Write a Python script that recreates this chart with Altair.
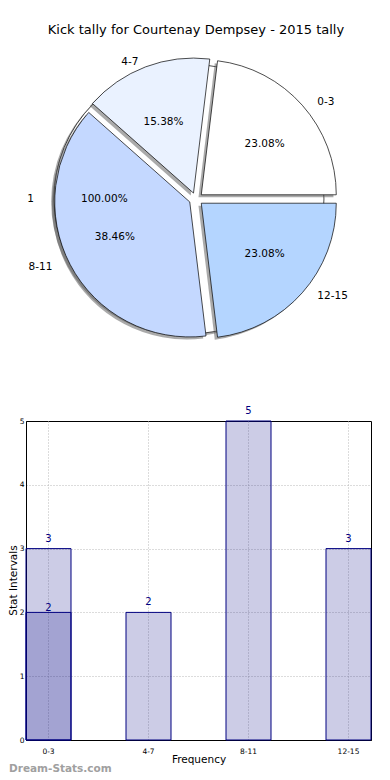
import altair as alt
import pandas as pd

# ---------------- data ----------------
categories = ["0-3", "4-7", "8-11", "12-15"]
tally = [3, 2, 5, 3]
slice_colors = ["#ffffff", "#eaf2ff", "#c4d8ff", "#b4d5ff"]

extra_labels = ["1"]
extra_pie_values = [1]
extra_colors = ["#ffffff"]
extra_categories = ["0-3"]
extra_bar_values = [2]

title_text = "Kick tally for Courtenay Dempsey - 2015 tally"
x_title = "Frequency"
y_title = "Stat Intervals"
watermark = "Dream-Stats.com"

FONT = "DejaVu Sans"
NAVY = "#000080"

pie_df = pd.DataFrame({"label": categories, "value": tally,
                       "color": slice_colors, "idx": list(range(len(categories)))})
extra_pie_df = pd.DataFrame({"label": extra_labels, "value": extra_pie_values,
                             "color": extra_colors, "idx": list(range(len(extra_labels)))})
bar_df = pd.DataFrame({"category": categories, "value": tally})
extra_bar_df = pd.DataFrame({"category": extra_categories, "value": extra_bar_values})

# ---------------- pie ----------------
PW, PH = 345, 390
CX, CY, RX, RY = 170, 191, 141, 127
R = 135
xs = alt.Scale(domain=[-1, 1], range=[CX - RX, CX + RX])
ys = alt.Scale(domain=[-1, 1], range=[CY + RY, CY - RY])


def pie_base(df):
    return (
        alt.Chart(df)
        .transform_window(cum="sum(value)", sort=[alt.SortField("idx")])
        .transform_joinaggregate(total="sum(value)")
        .transform_calculate(
            a0="2.5*PI - 2*PI*(datum.cum - datum.value)/datum.total",
            a1="2.5*PI - 2*PI*datum.cum/datum.total",
            mid="PI*(2*datum.cum - datum.value)/datum.total",
        )
        .transform_calculate(
            ex="0.05*cos(datum.mid)", ey="0.05*sin(datum.mid)",
            lx="1.15*cos(datum.mid)", ly="1.15*sin(datum.mid)",
            px="0.65*cos(datum.mid)", py="0.65*sin(datum.mid)",
            pct="format(100*datum.value/datum.total, '.2f') + '%'",
        )
    )


def arcs(df, shadow):
    b = pie_base(df)
    enc = dict(
        x=alt.X("ex:Q", scale=xs, axis=None),
        y=alt.Y("ey:Q", scale=ys, axis=None),
        theta=alt.Theta("a0:Q", scale=None),
        theta2="a1:Q",
    )
    if shadow:
        return b.mark_arc(radius=R, xOffset=-2.8, yOffset=2.5,
                          color="#555555", opacity=0.5).encode(**enc)
    return b.mark_arc(radius=R, stroke="black", strokeWidth=0.7).encode(
        color=alt.Color("color:N", scale=None), **enc)


def outer_labels(df):
    b = pie_base(df)
    enc = dict(x=alt.X("lx:Q", scale=xs, axis=None),
               y=alt.Y("ly:Q", scale=ys, axis=None),
               text="label:N")
    right = b.transform_filter("datum.lx >= 0").mark_text(
        align="left", baseline="middle", fontSize=10.5, font=FONT, color="black").encode(**enc)
    left = b.transform_filter("datum.lx < 0").mark_text(
        align="right", baseline="middle", fontSize=10.5, font=FONT, color="black").encode(**enc)
    return [right, left]


def pct_labels(df):
    return pie_base(df).mark_text(
        align="center", baseline="middle", fontSize=10.5, font=FONT, color="black"
    ).encode(x=alt.X("px:Q", scale=xs, axis=None),
             y=alt.Y("py:Q", scale=ys, axis=None),
             text="pct:N")


title_layer = alt.Chart(pd.DataFrame({"t": [title_text]})).mark_text(
    align="center", baseline="middle", fontSize=13, font=FONT, color="black"
).encode(x=alt.value(CX), y=alt.value(22), text="t:N")

pie = alt.layer(
    arcs(extra_pie_df, True),
    arcs(extra_pie_df, False),
    arcs(pie_df, True),
    arcs(pie_df, False),
    *outer_labels(pie_df),
    *outer_labels(extra_pie_df),
    pct_labels(pie_df),
    pct_labels(extra_pie_df),
    title_layer,
).properties(width=PW, height=PH,
             view=alt.ViewBackground(stroke="transparent", strokeWidth=0))

# ---------------- bars ----------------
BW, BH = 345, 319
xenc = alt.X(
    "category:N", sort=categories,
    scale=alt.Scale(paddingInner=0.55, paddingOuter=0),
    axis=alt.Axis(title=x_title, labelAngle=0, labelFontSize=7.5, labelFont=FONT,
                  labelColor="black", labelPadding=7, ticks=False, domainColor="black",
                  grid=True, gridColor="#b8b8b8", gridDash=[1, 2], bandPosition=0.5,
                  titleFontSize=10.5, titleFont=FONT, titleFontWeight="normal",
                  titleColor="black", titlePadding=0),
)
yenc = alt.Y(
    "value:Q", scale=alt.Scale(domain=[0, 5], nice=False),
    axis=alt.Axis(title=None, values=[0, 1, 2, 3, 4, 5], format="d",
                  labelFontSize=7.5, labelFont=FONT, labelColor="black", labelPadding=2,
                  ticks=False, domainColor="black", grid=True, gridColor="#b8b8b8",
                  gridDash=[1, 2],
                  gridOpacity={"condition": {"test": "datum.value >= 5 || datum.value <= 0",
                                             "value": 0}, "value": 1}),
)

bars = alt.Chart(bar_df).mark_bar(fill=NAVY, fillOpacity=0.2, stroke=NAVY,
                                  strokeWidth=1).encode(x=xenc, y=yenc)
bar_text = alt.Chart(bar_df).mark_text(baseline="middle", dy=-10, fontSize=10,
                                       font=FONT, color=NAVY).encode(
    x=xenc, y=yenc, text="value:Q")
extra_bars = alt.Chart(extra_bar_df).mark_bar(fill=NAVY, fillOpacity=0.2, stroke=NAVY,
                                              strokeWidth=1).encode(x=xenc, y=yenc)
extra_text = alt.Chart(extra_bar_df).mark_text(baseline="middle", dy=-4.5, fontSize=10,
                                               font=FONT, color=NAVY).encode(
    x=xenc, y=yenc, text="value:Q")
ytitle = alt.Chart(pd.DataFrame({"t": [y_title]})).mark_text(
    angle=270, align="center", baseline="middle", fontSize=10.5, font=FONT,
    color="black").encode(x=alt.value(-12), y=alt.value(BH / 2), text="t:N")
wm = alt.Chart(pd.DataFrame({"t": [watermark]})).mark_text(
    align="left", baseline="middle", fontSize=10.5, fontWeight="bold", font=FONT,
    color="#a0a0a0").encode(x=alt.value(-17), y=alt.value(BH + 29), text="t:N")

bar = alt.layer(bars, bar_text, extra_bars, extra_text, ytitle, wm).properties(
    width=BW, height=BH, view=alt.ViewBackground(stroke="black", strokeWidth=1))

chart = alt.vconcat(pie, bar, spacing=23, bounds="flush").properties(
    padding={"left": 0, "top": 0, "right": 0, "bottom": 0}
).configure_view(stroke="transparent").configure(font=FONT)

chart.save("out.html", embed_options={"renderer": "svg", "actions": False})
